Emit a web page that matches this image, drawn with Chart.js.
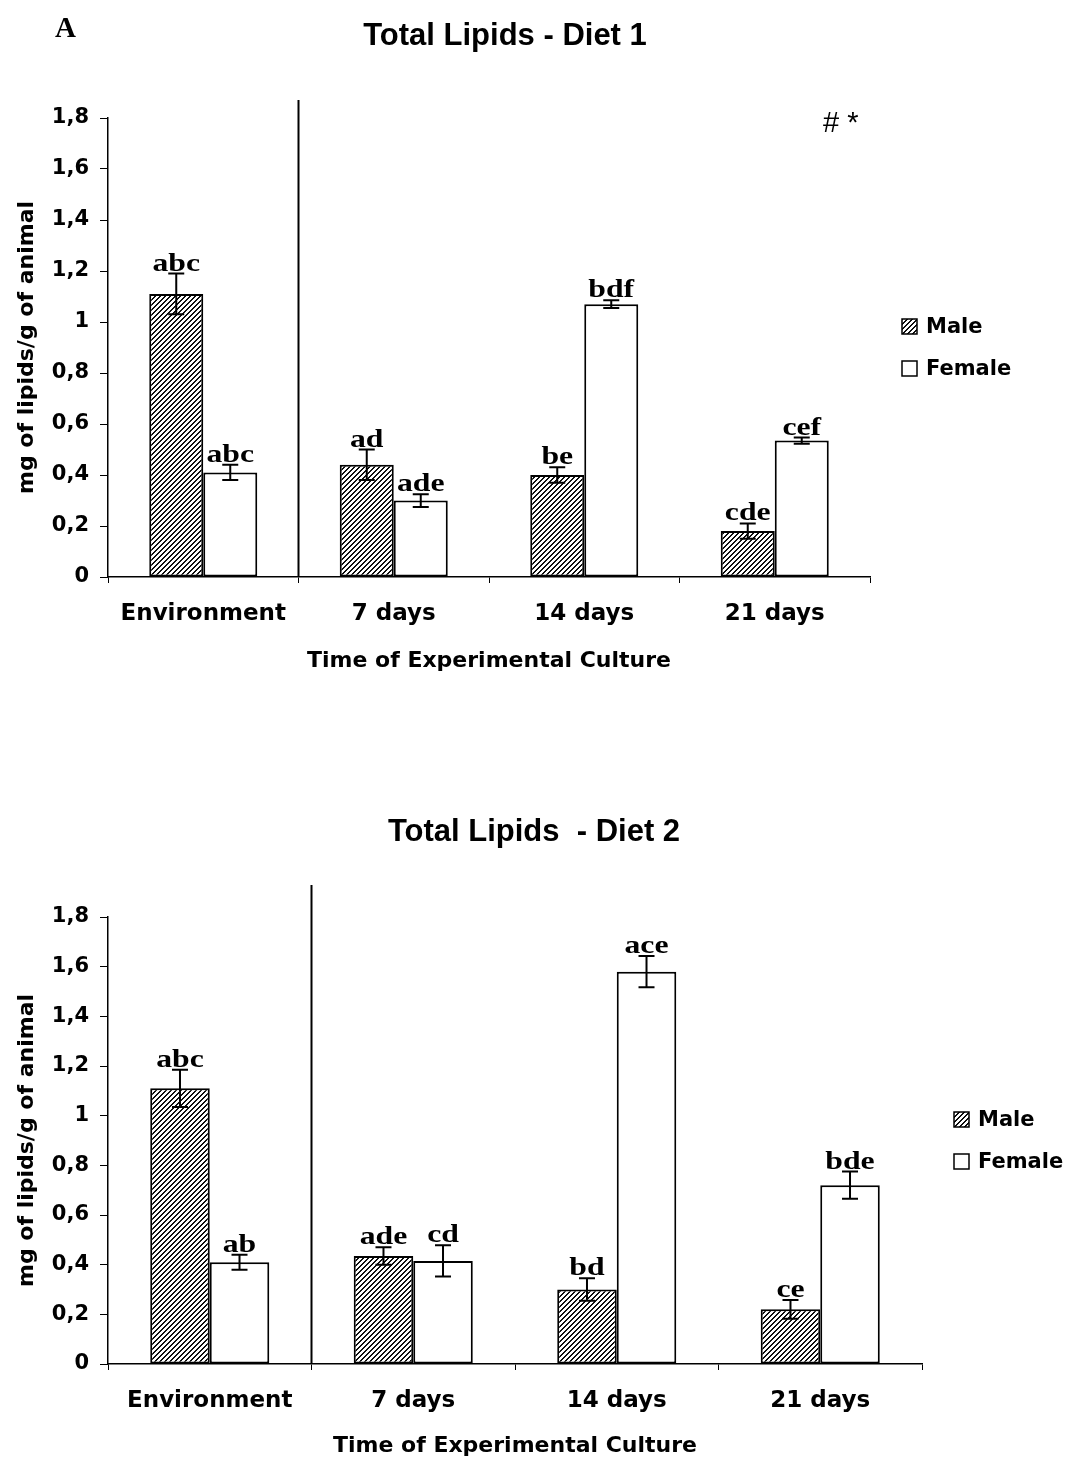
<!DOCTYPE html>
<html>
<head>
<meta charset="utf-8">
<title>Total Lipids</title>
<script src="https://cdn.jsdelivr.net/npm/chart.js@4.4.1/dist/chart.umd.min.js"></script>
<style>
  body { margin: 0; background: #fff; }
  #wrap { position: relative; width: 1075px; height: 1462px; }
  canvas { position: absolute; left: 0; }
  #chart1 { top: 0; }
  #chart2 { top: 700px; }
</style>
</head>
<body>
<div id="wrap">
  <canvas id="chart1" width="1075" height="700"></canvas>
  <canvas id="chart2" width="1075" height="762"></canvas>
</div>
<script>
// Data
const categories = ['Environment', '7 days', '14 days', '21 days'];
const yTickLabels = ['0', '0,2', '0,4', '0,6', '0,8', '1', '1,2', '1,4', '1,6', '1,8'];
const seriesNames = ['Male', 'Female'];

const diet1Male = [1.11, 0.44, 0.40, 0.18];
const diet1MaleErr = [0.08, 0.06, 0.03, 0.03];
const diet1Female = [0.41, 0.30, 1.07, 0.535];
const diet1FemaleErr = [0.03, 0.025, 0.015, 0.012];
const diet1MaleLetters = ['abc', 'ad', 'be', 'cde'];
const diet1FemaleLetters = ['abc', 'ade', 'bdf', 'cef'];

const diet2Male = [1.11, 0.435, 0.30, 0.22];
const diet2MaleErr = [0.075, 0.035, 0.045, 0.038];
const diet2Female = [0.41, 0.415, 1.58, 0.72];
const diet2FemaleErr = [0.03, 0.063, 0.063, 0.055];
const diet2MaleLetters = ['abc', 'ade', 'bd', 'ce'];
const diet2FemaleLetters = ['ab', 'cd', 'ace', 'bde'];

Chart.defaults.color = '#000';

// black diagonal hatch "////"
function makeHatch(ctx) {
    const tile = document.createElement('canvas');
    tile.width = 5;
    tile.height = 5;
    const g = tile.getContext('2d');
    const img = g.createImageData(5, 5);
    for (let y = 0; y < 5; y++) {
        for (let x = 0; x < 5; x++) {
            const i = (y * 5 + x) * 4;
            const v = ((x + y) % 5) < 2 ? 15 : 255;
            img.data[i] = v; img.data[i + 1] = v; img.data[i + 2] = v; img.data[i + 3] = 255;
        }
    }
    g.putImageData(img, 0, 0);
    return ctx.createPattern(tile, 'repeat');
}

function stretchedText(ctx, text, x, y, sx) {
    ctx.save();
    ctx.translate(x, y);
    ctx.scale(sx, 1);
    ctx.fillText(text, 0, 0);
    ctx.restore();
}

// error bars + letter labels
const errorBarPlugin = {
    id: 'errorBars',
    afterDatasetsDraw(chart, args, opts) {
        const ctx = chart.ctx;
        const yScale = chart.scales.y;
        ctx.save();
        chart.data.datasets.forEach((ds, di) => {
            const meta = chart.getDatasetMeta(di);
            meta.data.forEach((bar, j) => {
                const v = ds.data[j];
                const e = ds.errors[j];
                const yTop = yScale.getPixelForValue(v + e);
                const yBot = yScale.getPixelForValue(v - e);
                ctx.strokeStyle = '#000';
                ctx.lineWidth = 2;
                ctx.beginPath();
                ctx.moveTo(bar.x, yTop);
                ctx.lineTo(bar.x, yBot);
                ctx.moveTo(bar.x - 8, yTop);
                ctx.lineTo(bar.x + 8, yTop);
                ctx.moveTo(bar.x - 8, yBot);
                ctx.lineTo(bar.x + 8, yBot);
                ctx.stroke();

                ctx.fillStyle = '#000';
                ctx.font = 'bold 26px "Liberation Serif"';
                ctx.textAlign = 'center';
                ctx.textBaseline = 'alphabetic';
                stretchedText(ctx, ds.letters[j], bar.x, yTop - 3, 1.22);
            });
        });
        ctx.restore();
    }
};

// title, separator line, legend and marks
const decorPlugin = {
    id: 'decor',
    afterDraw(chart, args, opts) {
        const ctx = chart.ctx;
        const area = chart.chartArea;
        const xScale = chart.scales.x;
        ctx.save();

        // separator between Environment and the culture days
        const sepX = (xScale.getPixelForValue(0) + xScale.getPixelForValue(1)) / 2;
        ctx.strokeStyle = '#000';
        ctx.lineWidth = 2;
        ctx.beginPath();
        ctx.moveTo(sepX, area.top - opts.sepAbove);
        ctx.lineTo(sepX, area.bottom);
        ctx.stroke();

        // title
        ctx.fillStyle = '#000';
        ctx.font = 'bold 31px "Liberation Sans"';
        ctx.textAlign = 'center';
        ctx.textBaseline = 'alphabetic';
        ctx.fillText(opts.title, opts.titleX, opts.titleY);

        if (opts.panel) {
            ctx.font = 'bold 29px "Liberation Serif"';
            ctx.textAlign = 'left';
            ctx.fillText(opts.panel, 55, 37);
        }
        if (opts.mark) {
            ctx.font = '29px "Liberation Sans"';
            ctx.textAlign = 'left';
            ctx.fillText(opts.mark, 823, 132);
        }

        // legend
        const mid = (area.top + area.bottom) / 2;
        const boxX = area.right + 32;
        chart.data.datasets.forEach((ds, i) => {
            const cy = mid + (i === 0 ? -21 : 21);
            ctx.fillStyle = ds.backgroundColor;
            ctx.fillRect(boxX, cy - 7.5, 15, 15);
            ctx.strokeStyle = '#000';
            ctx.lineWidth = 1.5;
            ctx.strokeRect(boxX, cy - 7.5, 15, 15);
            ctx.fillStyle = '#000';
            ctx.font = 'bold 21px "DejaVu Sans"';
            ctx.textAlign = 'left';
            ctx.textBaseline = 'middle';
            ctx.fillText(ds.label, boxX + 24, cy + 1);
        });
        ctx.restore();
    }
};

function buildChart(canvasId, cfg) {
    const canvas = document.getElementById(canvasId);
    const ctx = canvas.getContext('2d');
    const hatch = makeHatch(ctx);

    return new Chart(ctx, {
        type: 'bar',
        data: {
            labels: categories,
            datasets: [
                {
                    label: seriesNames[0],
                    data: cfg.male,
                    errors: cfg.maleErr,
                    letters: cfg.maleLetters,
                    backgroundColor: hatch,
                    borderColor: '#000',
                    borderWidth: 2,
                    borderSkipped: false
                },
                {
                    label: seriesNames[1],
                    data: cfg.female,
                    errors: cfg.femaleErr,
                    letters: cfg.femaleLetters,
                    backgroundColor: '#fff',
                    borderColor: '#000',
                    borderWidth: 2,
                    borderSkipped: false
                }
            ]
        },
        options: {
            responsive: false,
            animation: false,
            devicePixelRatio: 1,
            datasets: {
                bar: {
                    categoryPercentage: cfg.catPct,
                    barPercentage: 1
                }
            },
            layout: {
                padding: { top: cfg.areaTop, right: cfg.padRight, left: 0, bottom: 0 }
            },
            plugins: {
                legend: { display: false },
                tooltip: { enabled: false },
                decor: {
                    title: cfg.title,
                    titleX: cfg.titleX,
                    titleY: cfg.titleY,
                    sepAbove: cfg.sepAbove,
                    panel: cfg.panel,
                    mark: cfg.mark
                }
            },
            scales: {
                x: {
                    type: 'category',
                    offset: true,
                    afterFit: function(scale) { scale.height = cfg.xHeight; },
                    grid: { offset: true, drawOnChartArea: false, drawTicks: true, tickLength: 6, color: '#000' },
                    border: { color: '#000', width: 1.5 },
                    ticks: {
                        padding: 17,
                        color: '#000',
                        font: { family: 'DejaVu Sans', weight: 'bold', size: 23 }
                    },
                    title: {
                        display: true,
                        text: 'Time of Experimental Culture',
                        color: '#000',
                        padding: { top: 0, bottom: cfg.xTitlePad },
                        font: { family: 'DejaVu Sans', weight: 'bold', size: 22 }
                    }
                },
                y: {
                    min: 0,
                    max: 1.8,
                    afterFit: function(scale) { scale.width = 108; },
                    grid: { drawOnChartArea: false, drawTicks: true, tickLength: 8, color: '#000' },
                    border: { color: '#000', width: 1.5 },
                    ticks: {
                        stepSize: 0.2,
                        padding: 11,
                        color: '#000',
                        font: { family: 'DejaVu Sans', weight: 'bold', size: 21 },
                        callback: function(value, index) {
                            return yTickLabels[index];
                        }
                    },
                    title: {
                        display: true,
                        text: 'mg of lipids/g of animal',
                        color: '#000',
                        padding: { top: 14, bottom: 0 },
                        font: { family: 'DejaVu Sans', weight: 'bold', size: 22 }
                    }
                }
            }
        },
        plugins: [errorBarPlugin, decorPlugin]
    });
}

buildChart('chart1', {
    male: diet1Male, maleErr: diet1MaleErr, maleLetters: diet1MaleLetters,
    female: diet1Female, femaleErr: diet1FemaleErr, femaleLetters: diet1FemaleLetters,
    catPct: 0.567,
    areaTop: 118, padRight: 205, xHeight: 123, xTitlePad: 26,
    title: 'Total Lipids - Diet 1', titleX: 505, titleY: 45,
    sepAbove: 18, panel: 'A', mark: '# *'
});

buildChart('chart2', {
    male: diet2Male, maleErr: diet2MaleErr, maleLetters: diet2MaleLetters,
    female: diet2Female, femaleErr: diet2FemaleErr, femaleLetters: diet2FemaleLetters,
    catPct: 0.585,
    areaTop: 217, padRight: 153, xHeight: 98, xTitlePad: 3,
    title: 'Total Lipids  - Diet 2', titleX: 534, titleY: 141,
    sepAbove: 32, panel: null, mark: null
});
</script>
</body>
</html>
